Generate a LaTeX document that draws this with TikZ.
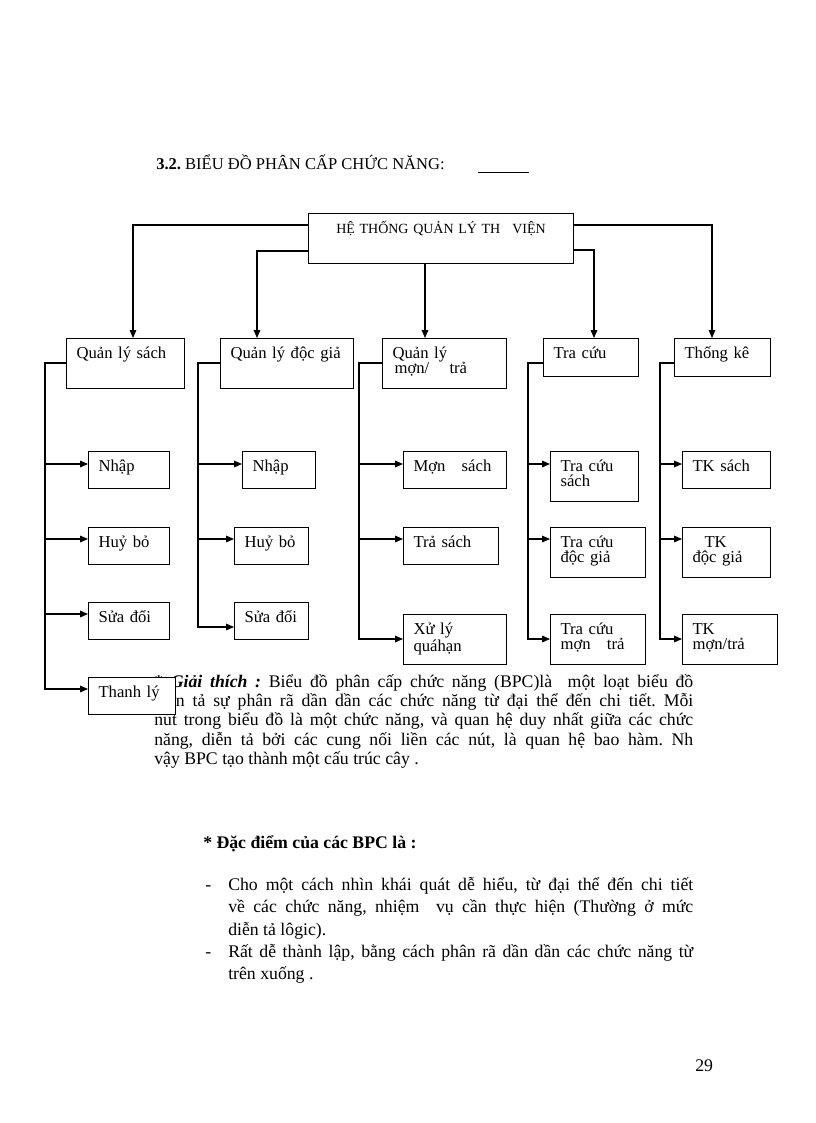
\documentclass[tikz,border=0pt]{standalone}
\usepackage{fontspec}
\setmainfont{Liberation Serif}
\usetikzlibrary{arrows.meta}
\setlength{\parindent}{0pt}
\frenchspacing

\begin{document}
\begin{tikzpicture}[x=0.75pt, y=-0.75pt, >={Triangle[length=6pt,width=5pt]}]
\useasboundingbox (0,0) rectangle (816,1123);
\fill[white] (0,0) rectangle (816,1123);

\node[anchor=base west, inner sep=0pt, font=\fontsize{12.4}{14}\selectfont] (title) at (156,170) {\textbf{3.2.} BIỂU ĐỒ PHÂN CẤP CHỨC NĂNG:\hspace{25pt}\underline{\hspace{38.25pt}}};

\begin{scope}[every node/.style={anchor=base west, inner sep=0pt, font=\fontsize{13.3}{14.6}\selectfont}]
	\node[text width=404.25pt, align=justify] (giaithich) at (154,687) {\textbf{* \textit{Giải thích :}} Biểu đồ phân cấp chức năng (BPC)là\ \ một loạt biểu đồ\linebreak diễn tả sự phân rã dần dần các chức năng từ đại thể đến chi tiết. Mỗi\linebreak nút trong biểu đồ là một chức năng, và quan hệ duy nhất giữa các chức\linebreak năng, diễn tả bởi các cung nối liền các nút, là quan hệ bao hàm. Nh\linebreak vậy BPC tạo thành một cấu trúc cây .};
	\node (dacdiem) at (203,848) {\textbf{* Đặc điểm của các BPC là :}};
	\node (g1) at (205,890) {-};
	\node[text width=348.75pt, align=justify, font=\fontsize{13.3}{16.9}\selectfont] (y1) at (228,890) {Cho một cách nhìn khái quát dễ hiểu, từ đại thể đến chi tiết\linebreak về các chức năng, nhiệm\ \ vụ cần thực hiện (Thường ở mức\linebreak diễn tả lôgic).};
	\node (g2) at (205,957) {-};
	\node[text width=348.75pt, align=justify, font=\fontsize{13.3}{16.9}\selectfont] (y2) at (228,957) {Rất dễ thành lập, bằng cách phân rã dần dần các chức năng từ\linebreak trên xuống .};
	\node (trang) at (695,1071) {29};
\end{scope}

\begin{scope}[every node/.style={draw, line width=0.8pt, fill=white, anchor=north west, align=left, inner xsep=7.5pt, inner ysep=0pt, text height=15pt, text depth=12.75pt, font=\fontsize{12.5}{11.25}\selectfont}]
	\node[text width=183.75pt, text depth=22.5pt, align=center, font=\fontsize{10.5}{12}\selectfont] (root) at (308,213) {HỆ THỐNG QUẢN LÝ TH\hspace{5.5pt} VIỆN};
	\node[text width=73.5pt, text depth=22.5pt] (sach) at (66,338) {Quản lý sách};
	\node[text width=84.75pt, text depth=22.5pt] (docgia) at (220,338) {Quản lý độc giả};
	\node[text width=78pt, text depth=22.5pt] (muontra) at (382,338) {Quản lý\\\hspace*{1.5pt}mợn/\hspace{11pt} trả};
	\node[text width=56.25pt, text depth=13.5pt] (tracuu) at (543,338) {Tra cứu};
	\node[text width=57pt, text depth=13.5pt] (thongke) at (674,338) {Thống kê};

	\node[text width=45.75pt] (nhap1) at (88,451) {Nhập};
	\node[text width=45.75pt] (huy1) at (88,527) {Huỷ bỏ};
	\node[text width=45.75pt] (sua1) at (88,602) {Sửa đổi};
	\node[text width=50.25pt] (thanhly) at (88,677) {Thanh lý};
	\node[text width=39.75pt] (nhap2) at (242,451) {Nhập};
	\node[text width=40.5pt] (huy2) at (234,527) {Huỷ bỏ};
	\node[text width=40.5pt] (sua2) at (234,602) {Sửa đổi};
	\node[text width=62.25pt] (muon) at (403,451) {Mợn\hspace{8pt} sách};
	\node[text width=56.25pt] (tra) at (403,527) {Trả sách};
	\node[text width=62.25pt, text depth=22.5pt] (quahan) at (403,614) {Xử lý\\quáhạn};
	\node[text width=51pt, text depth=22.5pt] (tcsach) at (550,451) {Tra cứu\\sách};
	\node[text width=56.25pt, text depth=22.5pt] (tcdocgia) at (550,527) {Tra cứu\\độc giả};
	\node[text width=56.25pt, text depth=22.5pt] (tcmuon) at (550,614) {Tra cứu\\mợn\hspace{8pt} trả};
	\node[text width=51pt] (tksach) at (682,451) {TK sách};
	\node[text width=51pt, text depth=22.5pt] (tkdocgia) at (682,527) {\hspace*{9pt}TK\\độc giả};
	\node[text width=56.25pt, text depth=22.5pt] (tkmuon) at (682,614) {TK\\mợn/trả};
\end{scope}

\begin{scope}[line width=0.8pt]
	\draw [->] (root.west |- 0,225) -| (sach.north -| 133,0);
	\draw [->] (root.west |- 0,251) -| (docgia.north -| 257,0);
	\draw [->] (root.south -| 425,0) -- (muontra.north -| 425,0);
	\draw [->] (root.east |- 0,250) -| (tracuu.north -| 594,0);
	\draw [->] (root.east |- 0,225) -| (thongke.north -| 712,0);

	\draw [->] (sach.west |- 0,363) -- ++(-21,0) |- (nhap1.west |- 0,464);
	\draw [->] (sach.west |- 0,363) -- ++(-21,0) |- (huy1.west |- 0,539);
	\draw [->] (sach.west |- 0,363) -- ++(-21,0) |- (sua1.west |- 0,614);
	\draw [->] (sach.west |- 0,363) -- ++(-21,0) |- (thanhly.west |- 0,689);

	\draw [->] (docgia.west |- 0,363) -- ++(-22,0) |- (nhap2.west |- 0,464);
	\draw [->] (docgia.west |- 0,363) -- ++(-22,0) |- (huy2.west |- 0,539);
	\draw [->] (docgia.west |- 0,363) -- ++(-22,0) |- (sua2.west |- 0,627);

	\draw [->] (muontra.west |- 0,363) -- ++(-23,0) |- (muon.west |- 0,464);
	\draw [->] (muontra.west |- 0,363) -- ++(-23,0) |- (tra.west |- 0,539);
	\draw [->] (muontra.west |- 0,363) -- ++(-23,0) |- (quahan.west |- 0,639);

	\draw [->] (tracuu.west |- 0,363) -- ++(-15,0) |- (tcsach.west |- 0,464);
	\draw [->] (tracuu.west |- 0,363) -- ++(-15,0) |- (tcdocgia.west |- 0,539);
	\draw [->] (tracuu.west |- 0,363) -- ++(-15,0) |- (tcmuon.west |- 0,639);

	\draw [->] (thongke.west |- 0,363) -- ++(-14,0) |- (tksach.west |- 0,464);
	\draw [->] (thongke.west |- 0,363) -- ++(-14,0) |- (tkdocgia.west |- 0,539);
	\draw [->] (thongke.west |- 0,363) -- ++(-14,0) |- (tkmuon.west |- 0,639);
\end{scope}
\end{tikzpicture}
\end{document}
